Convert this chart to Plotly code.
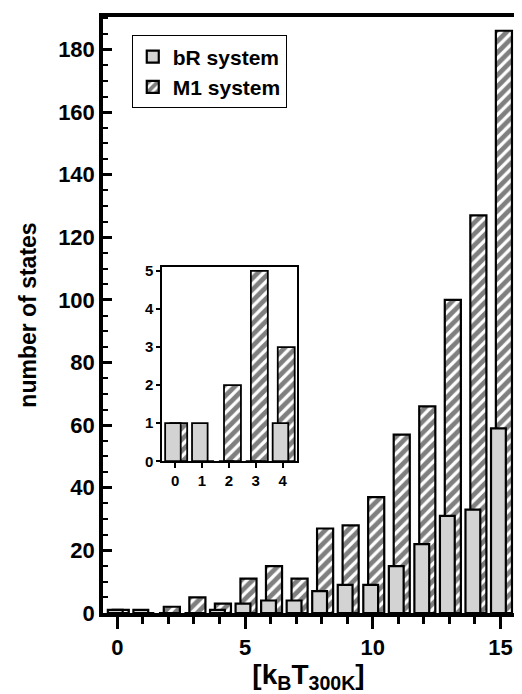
import plotly.graph_objects as go

energy = list(range(16))
br_states = [1, 1, 0, 0, 1, 3, 4, 4, 7, 9, 9, 15, 22, 31, 33, 59]
m1_states = [1, 0, 2, 5, 3, 11, 15, 11, 27, 28, 37, 57, 66, 100, 127, 186]
inset_n = 5

FONT = "Liberation Sans, Arial, Helvetica, sans-serif"
GREY = "rgb(211,211,211)"

fig = go.Figure()

def add_bars(x, br, m1, xa, ya, show, lw):
    fig.add_trace(go.Bar(
        x=x, y=m1, name="M1 system", xaxis=xa, yaxis=ya,
        width=0.63, offset=-0.18,
        marker=dict(color="white", line=dict(color="black", width=lw),
                    pattern=dict(shape="/", fgcolor="black", bgcolor="white",
                                 size=8, solidity=0.6)),
        showlegend=show, legendrank=2))
    fig.add_trace(go.Bar(
        x=x, y=br, name="bR system", xaxis=xa, yaxis=ya,
        width=0.58, offset=-0.37,
        marker=dict(color=GREY, line=dict(color="black", width=lw)),
        showlegend=show, legendrank=1))

add_bars(energy, br_states, m1_states, "x", "y", True, 2.2)
add_bars(energy[:inset_n], br_states[:inset_n], m1_states[:inset_n], "x2", "y2", False, 1.8)

fig.update_layout(
    width=514, height=686,
    margin=dict(l=95, r=4, t=8, b=81),
    plot_bgcolor="white", paper_bgcolor="white",
    barmode="overlay",
    font=dict(family=FONT, color="black", size=21, weight="bold"),
    legend=dict(x=0.07, y=0.969, xanchor="left", yanchor="top",
                bordercolor="black", borderwidth=1, bgcolor="white",
                font=dict(size=21, family=FONT, weight="bold"),
                traceorder="normal", itemwidth=30),
    xaxis=dict(range=[-0.56, 15.53], dtick=5, tick0=0,
               ticks="outside", ticklen=12, tickwidth=2.5, tickcolor="black",
               minor=dict(dtick=1, ticks="outside", ticklen=7, tickwidth=2.5, tickcolor="black"),
               showline=True, linewidth=3.5, linecolor="black", mirror=True,
               showgrid=False, zeroline=False,
               tickfont=dict(size=22, family=FONT, weight="bold"),
               title=dict(text="[k<sub>B</sub>T<sub>300K</sub>]",
                          font=dict(size=28, family=FONT, weight="bold"), standoff=4)),
    yaxis=dict(range=[0, 190.4], dtick=20, tick0=0,
               ticks="inside", ticklen=9, tickwidth=2.5, tickcolor="black",
               minor=dict(dtick=5, ticks="inside", ticklen=5, tickwidth=2, tickcolor="black"),
               showline=True, linewidth=3.5, linecolor="black", mirror=True,
               showgrid=False, zeroline=False,
               tickfont=dict(size=22, family=FONT, weight="bold"),
               title=dict(text="number of states",
                          font=dict(size=23, family=FONT, weight="bold"), standoff=16)),
    xaxis2=dict(domain=[0.144, 0.471], anchor="y2", range=[-0.48, 4.52], dtick=1, tick0=0,
                ticks="outside", ticklen=5, tickwidth=1.5, tickcolor="black",
                showline=True, linewidth=1.5, linecolor="black", mirror=True,
                showgrid=False, zeroline=False,
                tickfont=dict(size=15, family=FONT, weight="bold")),
    yaxis2=dict(domain=[0.2546, 0.581], anchor="x2", range=[0, 5.11], dtick=1, tick0=0,
                ticks="outside", ticklen=4, tickwidth=1.5, tickcolor="black",
                showline=True, linewidth=1.5, linecolor="black", mirror=True,
                showgrid=False, zeroline=False,
                tickfont=dict(size=15, family=FONT, weight="bold")),
)

fig.write_html("out.html")
